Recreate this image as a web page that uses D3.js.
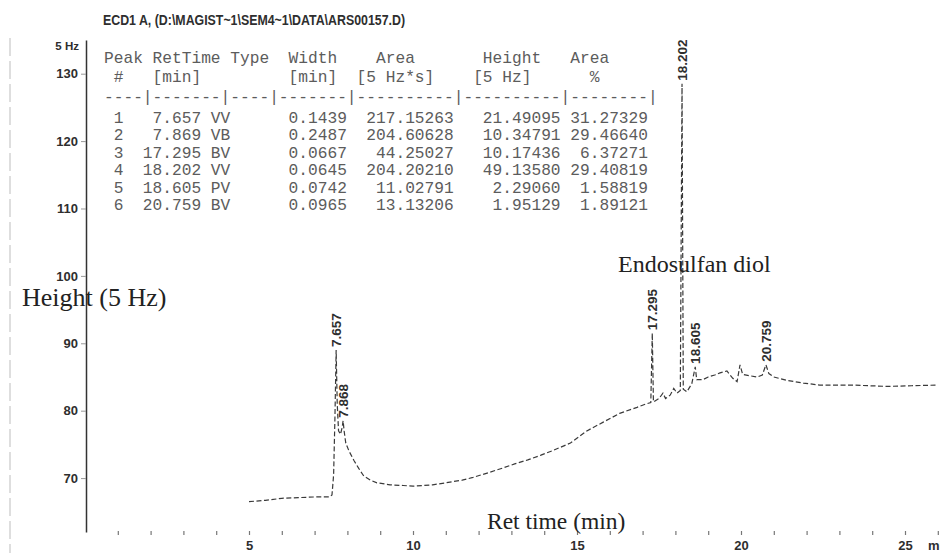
<!DOCTYPE html>
<html>
<head>
<meta charset="utf-8">
<script src="https://cdn.jsdelivr.net/npm/d3@7"></script>
<style>
  html, body { margin: 0; padding: 0; background: #fff; overflow: hidden; }
  svg { display: block; }
</style>
</head>
<body>
<svg id="chart" width="940" height="553"></svg>
<script>
// ---------------- data ----------------
const titleText = "ECD1 A, (D:\\MAGIST~1\\SEM4~1\\DATA\\ARS00157.D)";
const yUnit = "5 Hz";
const yTicks = [70, 80, 90, 100, 110, 120, 130];
const xTicks = [5, 10, 15, 20, 25];
const xMinorTicks = [1,2,3,4,5,6,7,8,9,10,11,12,13,14,15,16,17,18,19,20,21,22,23,24,25,26];

// integration report table
const peakNums  = [1, 2, 3, 4, 5, 6];
const retTimes  = [7.657, 7.869, 17.295, 18.202, 18.605, 20.759];
const peakTypes = ["VV", "VB", "BV", "VV", "PV", "BV"];
const peakWidths = [0.1439, 0.2487, 0.0667, 0.0645, 0.0742, 0.0965];
const peakAreas  = [217.15263, 204.60628, 44.25027, 204.20210, 11.02791, 13.13206];
const peakHeights = [21.49095, 10.34791, 10.17436, 49.13580, 2.29060, 1.95129];
const areaPct    = [31.27329, 29.46640, 6.37271, 29.40819, 1.58819, 1.89121];
const header1 = "Peak RetTime Type  Width    Area       Height   Area";
const header2 = " #   [min]         [min]  [5 Hz*s]    [5 Hz]      %";
const dashLine = "----|-------|----|-------|----------|----------|--------|";

// peak labels drawn on the trace
const peakLabels = ["7.657", "7.868", "17.295", "18.202", "18.605", "20.759"];
const peakApex   = [89.0, 78.5, 91.5, 128.5, 86.5, 86.8];

// signal trace (time in min, signal in 5 Hz)
const traceT = [5.0, 5.5, 6.0, 6.5, 7.0, 7.45, 7.53, 7.58, 7.62, 7.657, 7.69, 7.73, 7.79, 7.84, 7.869, 7.9, 7.95,
  8.05, 8.2, 8.35, 8.5, 8.7, 8.9, 9.3, 9.7, 10.0, 10.6, 11.0, 11.5, 11.83, 12.3, 12.74, 13.1, 13.5, 13.9,
  14.27, 14.8, 15.3, 15.8, 16.3, 16.83, 17.1, 17.25, 17.295, 17.33, 17.5, 17.62, 17.7, 17.84, 17.95, 18.05,
  18.15, 18.202, 18.24, 18.35, 18.5, 18.605, 18.65, 18.84, 19.0, 19.2, 19.36, 19.57, 19.75, 19.88, 19.97,
  20.05, 20.25, 20.5, 20.65, 20.759, 20.85, 21.0, 21.4, 21.9, 22.4, 23.4, 24.45, 25.2, 26.0];
const traceV = [66.5, 66.7, 67.0, 67.1, 67.2, 67.2, 67.5, 70.5, 79.0, 89.0, 81.0, 77.0, 76.5, 77.5, 78.5, 77.0, 75.2,
  74.0, 72.6, 71.4, 70.3, 69.7, 69.3, 69.0, 68.9, 68.8, 69.0, 69.3, 69.7, 70.1, 70.8, 71.5, 72.1, 72.7, 73.4,
  74.1, 75.2, 77.0, 78.3, 79.6, 80.5, 81.0, 81.2, 91.5, 81.3, 81.8, 82.6, 81.8, 82.3, 83.3, 82.6,
  83.0, 128.5, 83.2, 82.8, 84.0, 86.5, 84.6, 84.6, 85.0, 85.3, 85.6, 85.9, 84.8, 84.3, 86.8,
  85.4, 85.2, 85.0, 85.3, 86.8, 85.5, 85.0, 84.5, 84.1, 83.8, 83.8, 83.6, 83.7, 83.8];

const yAxisTitle = "Height (5 Hz)";
const xAxisTitle = "Ret time (min)";
const annotation = "Endosulfan diol";

// ---------------- drawing ----------------
const svg = d3.select("#chart");
const x = d3.scaleLinear().domain([0, 28]).range([85, 85 + 28 * 32.8]);
const y = d3.scaleLinear().domain([62, 135]).range([532, 40]);

const ink = "#2e2e2e";
const sans = "Liberation Sans, Arial, sans-serif";

// scan border artefact on the left
svg.append("line").attr("x1", 10).attr("x2", 10).attr("y1", 38).attr("y2", 553)
  .attr("stroke", "#bdbdbd").attr("stroke-width", 1).attr("stroke-dasharray", "18,5");

// title
svg.append("text").attr("x", 103).attr("y", 25)
  .attr("font-family", sans).attr("font-weight", "bold")
  .attr("font-size", 14).attr("fill", ink)
  .attr("textLength", 302).attr("lengthAdjust", "spacingAndGlyphs")
  .text(titleText);

// y axis
const yAxis = d3.axisLeft(y).tickValues(yTicks).tickSize(5).tickSizeOuter(0).tickPadding(3);
const gy = svg.append("g").attr("transform", "translate(86,0)").call(yAxis);
gy.select(".domain").attr("stroke", "#333").attr("stroke-width", 1.5);
gy.selectAll(".tick line").attr("stroke", "#999");
gy.selectAll(".tick text").attr("font-family", sans)
  .attr("font-weight", "bold").attr("font-size", 13).attr("fill", ink);
svg.append("text").attr("x", 79).attr("y", 50).attr("text-anchor", "end")
  .attr("font-family", sans).attr("font-weight", "bold")
  .attr("font-size", 11.5).attr("fill", ink).text(yUnit);

// x axis (minor ticks + labelled major ticks, no baseline)
const gxm = svg.append("g").attr("transform", "translate(0,531)")
  .call(d3.axisBottom(x).tickValues(xMinorTicks).tickSize(4).tickFormat(""));
gxm.select(".domain").remove();
gxm.selectAll(".tick line").attr("stroke", "#777").attr("stroke-width", 1.2);
const gx = svg.append("g").attr("transform", "translate(0,530)")
  .call(d3.axisBottom(x).tickValues(xTicks).tickSize(0).tickPadding(11).tickFormat(d3.format("d")));
gx.select(".domain").remove();
gx.selectAll(".tick text").attr("font-family", sans)
  .attr("font-weight", "bold").attr("font-size", 13).attr("fill", ink);
svg.append("text").attr("x", x(25) + 23).attr("y", 550)
  .attr("font-family", sans).attr("font-weight", "bold")
  .attr("font-size", 13).attr("fill", ink).text("min");

// report table
function fmtRow(i) {
  return String(peakNums[i]).padStart(2) +
    retTimes[i].toFixed(3).padStart(8) + " " +
    peakTypes[i].padEnd(4) +
    peakWidths[i].toFixed(4).padStart(10) +
    peakAreas[i].toFixed(5).padStart(11) +
    peakHeights[i].toFixed(5).padStart(11) +
    areaPct[i].toFixed(5).padStart(9);
}
const tableLines = [
  { s: header1, yy: 63 },
  { s: header2, yy: 82 },
  { s: dashLine, yy: 102 }
].concat(peakNums.map((d, i) => ({ s: fmtRow(i), yy: 123 + i * 17.4 })));
svg.append("g").selectAll("text").data(tableLines).join("text")
  .attr("x", 104).attr("y", d => d.yy)
  .attr("xml:space", "preserve").style("white-space", "pre")
  .attr("font-family", "Liberation Mono, Courier New, monospace")
  .attr("font-size", 16.2).attr("fill", "#5c5c5c")
  .text(d => d.s);

// signal trace
const trace = traceT.map((t, i) => [t, traceV[i]]);
svg.append("path").datum(trace)
  .attr("fill", "none").attr("stroke", "#3a3a3a").attr("stroke-width", 1.2)
  .attr("stroke-dasharray", "5,2.5")
  .attr("d", d3.line().x(d => x(d[0])).y(d => y(d[1])));

// peak labels
svg.append("g").selectAll("text").data(peakLabels).join("text")
  .attr("transform", (d, i) => `translate(${x(retTimes[i])},${y(peakApex[i]) - 3}) rotate(-90)`)
  .attr("dy", "0.36em")
  .attr("font-family", sans).attr("font-weight", "bold")
  .attr("font-size", 13.5).attr("fill", ink)
  .text(d => d);

// titles / annotation (serif)
const serif = "Liberation Serif, Times New Roman, serif";
svg.append("text").attr("x", 22).attr("y", 306).attr("font-family", serif)
  .attr("font-size", 26).attr("fill", "#222").text(yAxisTitle);
svg.append("text").attr("x", 487).attr("y", 529).attr("font-family", serif)
  .attr("font-size", 23.5).attr("fill", "#222").text(xAxisTitle);
svg.append("text").attr("x", 618).attr("y", 272).attr("font-family", serif)
  .attr("font-size", 24).attr("fill", "#222").text(annotation);
</script>
</body>
</html>
